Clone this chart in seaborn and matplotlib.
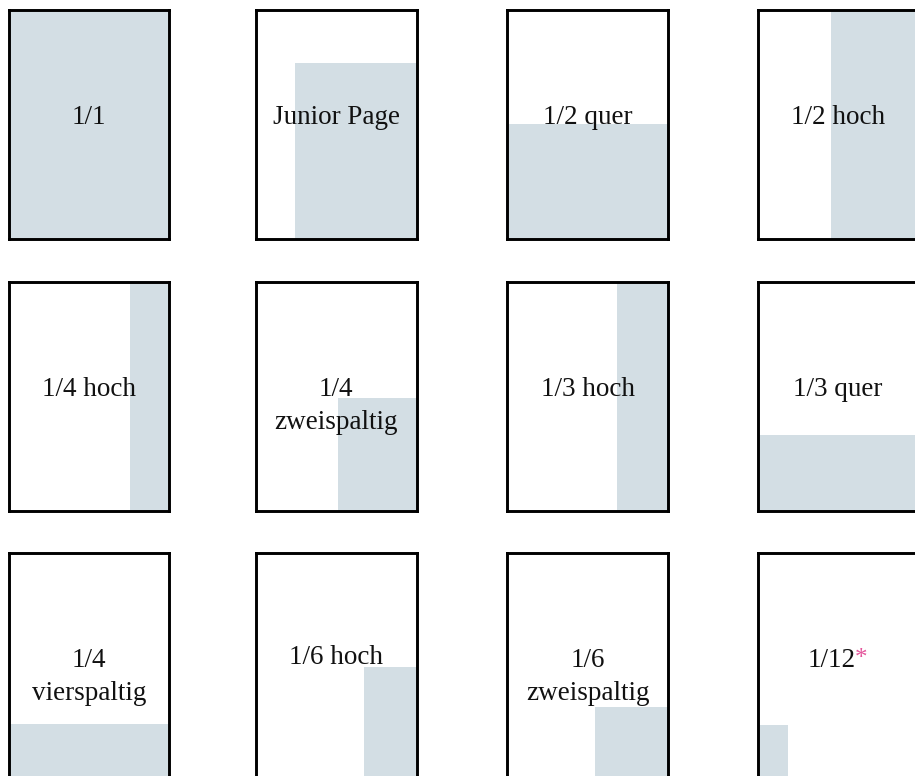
import matplotlib
matplotlib.use("Agg")
import matplotlib.pyplot as plt
import seaborn as sns

# ad formats: label and shaded area as page fractions (x0, y0 from bottom, width, height)
labels = ["1/1", "Junior Page", "1/2 quer", "1/2 hoch",
          "1/4 hoch", "1/4\nzweispaltig", "1/3 hoch", "1/3 quer",
          "1/4\nvierspaltig", "1/6 hoch", "1/6\nzweispaltig", "1/12"]
ad_x = [0.0, 0.24, 0.0, 0.46, 0.755, 0.51, 0.685, 0.0, 0.0, 0.67, 0.547, 0.0]
ad_y = [0.0] * 12
ad_w = [1.0, 0.76, 1.0, 0.54, 0.245, 0.49, 0.315, 1.0, 1.0, 0.33, 0.453, 0.19]
ad_h = [1.0, 0.765, 0.5, 1.0, 1.0, 0.49, 1.0, 0.33, 0.25, 0.5, 0.325, 0.247]
footnote = [False] * 11 + [True]

sns.set_theme(style="white")
plt.rcParams["font.family"] = ["Liberation Serif", "DejaVu Serif"]

shade = "#d3dee4"
pink = "#e4559b"

W, H = 915, 776
fig = plt.figure(figsize=(W / 100, H / 100), dpi=100)
fig.patch.set_facecolor("white")

col_left = [8.5, 256, 507.5, 757.5]
row_top = [9.5, 281.5, 552.5]
page_w, page_h = 160.5, 229

for i, label in enumerate(labels):
    r, c = divmod(i, 4)
    left = col_left[c] / W
    bottom = 1 - (row_top[r] + page_h) / H
    ax = fig.add_axes([left, bottom, page_w / W, page_h / H])
    ax.bar(ad_x[i], ad_h[i], width=ad_w[i], bottom=ad_y[i], align="edge",
           color=shade, linewidth=0)
    ax.set_xlim(0, 1)
    ax.set_ylim(0, 1)
    ax.set_xticks([])
    ax.set_yticks([])
    ax.set_facecolor("white")
    for sp in ax.spines.values():
        sp.set_visible(True)
        sp.set_color("black")
        sp.set_linewidth(2.1)

    lines = label.split("\n")
    base = 0.50 if label != "1/6 hoch" else 0.515
    for k, line in enumerate(lines):
        x = 0.5
        if footnote[i]:
            x = 0.465
        t = ax.text(x, base - k * 0.146, line, transform=ax.transAxes,
                    ha="center", va="baseline", fontsize=19.5, color="#111111")
        if footnote[i]:
            ax.annotate("*", xy=(1, 0), xycoords=t, xytext=(-1, 2),
                        textcoords="offset points", ha="left", va="bottom",
                        fontsize=18, color=pink)

fig.savefig("out.png", dpi=100, facecolor="white")
